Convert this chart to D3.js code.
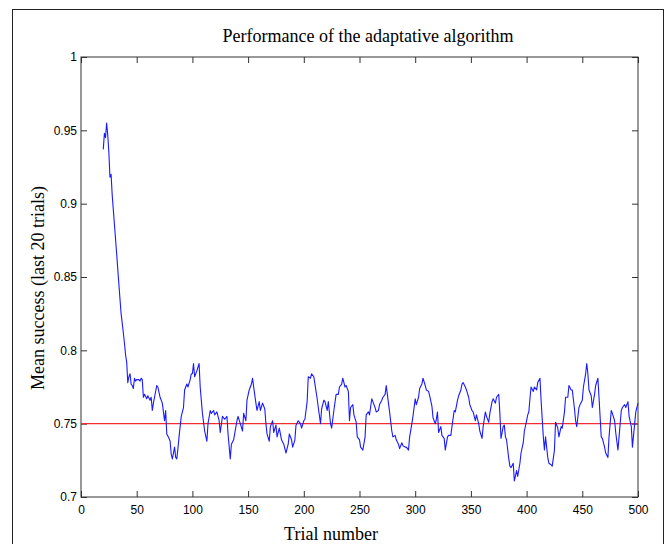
<!DOCTYPE html>
<html>
<head>
<meta charset="utf-8">
<script src="https://cdn.jsdelivr.net/npm/d3@7"></script>
<style>
  body { margin: 0; background: #fff; }
  svg { display: block; }
  .tick text { font-family: "Liberation Sans", Arial, sans-serif; font-size: 12px; fill: #000; }
  .tick line { stroke: #333; }
</style>
</head>
<body>
<svg></svg>
<script>
// trial number and mean success (moving window of last 20 trials)
const trials = [
  20, 21, 22, 23, 24, 25, 26, 27, 28, 30, 32, 34, 36, 38, 39, 40, 41, 42, 43, 44,
  45, 46, 47, 48, 49, 50, 52, 53, 54, 55, 56, 57, 59, 60, 62, 63, 64, 65, 66, 68,
  69, 71, 73, 75, 76, 77, 79, 80, 81, 82, 84, 85, 86, 87, 88, 90, 92, 93, 95, 96,
  98, 99, 100, 101, 102, 104, 106, 107, 109, 111, 113, 114, 116, 117, 119, 120, 122, 124, 125, 127,
  129, 131, 132, 134, 135, 137, 140, 141, 143, 145, 146, 148, 149, 151, 153, 154, 155, 157, 158, 160,
  161, 163, 165, 166, 167, 169, 170, 172, 173, 175, 176, 178, 180, 182, 184, 186, 187, 189, 190, 192,
  193, 195, 197, 198, 200, 201, 203, 204, 206, 207, 209, 210, 212, 213, 215, 216, 218, 219, 221, 222,
  224, 225, 227, 229, 231, 232, 234, 235, 237, 238, 240, 241, 242, 244, 245, 247, 248, 250, 251, 253,
  255, 256, 258, 259, 261, 262, 264, 265, 267, 268, 270, 271, 273, 274, 276, 277, 279, 280, 282, 283,
  285, 286, 288, 289, 291, 292, 294, 295, 297, 298, 300, 301, 303, 304, 306, 307, 309, 310, 312, 313,
  315, 316, 318, 319, 320, 321, 323, 324, 326, 327, 329, 330, 332, 333, 335, 336, 338, 339, 341, 342,
  343, 345, 346, 348, 349, 351, 352, 354, 355, 357, 358, 360, 361, 363, 364, 366, 367, 369, 370, 372,
  373, 375, 376, 377, 379, 380, 381, 382, 384, 385, 386, 388, 389, 391, 392, 394, 395, 397, 398, 400,
  401, 402, 403, 404, 406, 407, 409, 410, 412, 413, 415, 416, 417, 419, 420, 422, 423, 425, 426, 428,
  429, 431, 432, 434, 435, 437, 438, 440, 441, 443, 444, 445, 447, 448, 450, 451, 453, 454, 455, 456,
  458, 459, 461, 462, 464, 465, 467, 468, 470, 471, 473, 474, 476, 477, 479, 480, 482, 483, 485, 486,
  488, 489, 491, 492, 494, 495, 497, 498, 500
]
const success = [
  0.937, 0.948, 0.945, 0.955, 0.947, 0.935, 0.918, 0.920, 0.906, 0.886, 0.866, 0.845, 0.825, 0.812, 0.805, 0.797, 0.792, 0.778, 0.782, 0.784,
  0.777, 0.776, 0.774, 0.781, 0.779, 0.780, 0.780, 0.779, 0.781, 0.780, 0.768, 0.770, 0.767, 0.769, 0.766, 0.768, 0.759, 0.764, 0.768, 0.776,
  0.775, 0.768, 0.764, 0.752, 0.759, 0.743, 0.740, 0.738, 0.729, 0.726, 0.734, 0.727, 0.726, 0.733, 0.741, 0.755, 0.761, 0.773, 0.777, 0.775,
  0.780, 0.784, 0.784, 0.791, 0.782, 0.786, 0.791, 0.775, 0.757, 0.745, 0.738, 0.750, 0.759, 0.757, 0.759, 0.756, 0.758, 0.752, 0.744, 0.755,
  0.753, 0.755, 0.743, 0.726, 0.736, 0.739, 0.752, 0.755, 0.750, 0.745, 0.757, 0.752, 0.766, 0.773, 0.777, 0.781, 0.775, 0.764, 0.759, 0.765,
  0.759, 0.764, 0.760, 0.750, 0.743, 0.738, 0.748, 0.752, 0.744, 0.749, 0.741, 0.747, 0.739, 0.736, 0.730, 0.736, 0.743, 0.739, 0.734, 0.739,
  0.749, 0.752, 0.750, 0.747, 0.752, 0.753, 0.765, 0.782, 0.781, 0.784, 0.782, 0.777, 0.767, 0.761, 0.750, 0.760, 0.766, 0.765, 0.759, 0.765,
  0.750, 0.747, 0.759, 0.770, 0.770, 0.775, 0.777, 0.781, 0.775, 0.776, 0.772, 0.752, 0.761, 0.763, 0.756, 0.751, 0.741, 0.739, 0.734, 0.732,
  0.741, 0.756, 0.758, 0.756, 0.767, 0.765, 0.761, 0.758, 0.759, 0.763, 0.766, 0.768, 0.770, 0.776, 0.764, 0.758, 0.745, 0.741, 0.742, 0.739,
  0.736, 0.733, 0.737, 0.735, 0.734, 0.734, 0.732, 0.741, 0.750, 0.755, 0.767, 0.763, 0.768, 0.774, 0.777, 0.781, 0.776, 0.773, 0.772, 0.769,
  0.762, 0.754, 0.750, 0.753, 0.758, 0.744, 0.748, 0.742, 0.740, 0.732, 0.741, 0.742, 0.742, 0.748, 0.759, 0.758, 0.766, 0.769, 0.773, 0.777,
  0.778, 0.775, 0.773, 0.768, 0.763, 0.759, 0.758, 0.752, 0.756, 0.750, 0.745, 0.740, 0.748, 0.758, 0.755, 0.751, 0.757, 0.765, 0.767, 0.764,
  0.768, 0.770, 0.757, 0.740, 0.748, 0.749, 0.741, 0.739, 0.726, 0.721, 0.720, 0.723, 0.711, 0.718, 0.714, 0.723, 0.730, 0.737, 0.745, 0.752,
  0.756, 0.758, 0.767, 0.775, 0.772, 0.775, 0.773, 0.778, 0.781, 0.766, 0.741, 0.732, 0.741, 0.727, 0.723, 0.722, 0.721, 0.732, 0.751, 0.747,
  0.741, 0.748, 0.747, 0.758, 0.768, 0.768, 0.776, 0.773, 0.773, 0.760, 0.752, 0.748, 0.761, 0.763, 0.766, 0.775, 0.784, 0.791, 0.784, 0.773,
  0.769, 0.761, 0.770, 0.776, 0.781, 0.768, 0.741, 0.740, 0.734, 0.730, 0.727, 0.741, 0.759, 0.757, 0.752, 0.744, 0.732, 0.741, 0.759, 0.761,
  0.763, 0.761, 0.765, 0.755, 0.748, 0.734, 0.750, 0.758, 0.764
]
const chance = 0.75
const xTicks = [0, 50, 100, 150, 200, 250, 300, 350, 400, 450, 500]
const yTicks = [0.7, 0.75, 0.8, 0.85, 0.9, 0.95, 1]

const width = 667, height = 544
const svg = d3.select("svg").attr("width", width).attr("height", height)

// outer figure frame
svg.append("rect")
  .attr("x", 12.5).attr("y", 9.5)
  .attr("width", 651).attr("height", 545)
  .attr("fill", "none").attr("stroke", "#222")

const x = d3.scaleLinear().domain([0, 500]).range([81, 638])
const y = d3.scaleLinear().domain([0.7, 1]).range([497, 57])

const fmt = d => d3.format("")(+d.toFixed(2))

svg.append("g").attr("transform", `translate(0,${y(0.7)})`)
  .call(d3.axisBottom(x).tickValues(xTicks).tickSize(-6).tickPadding(8).tickFormat(d3.format("d")))
  .call(g => g.select(".domain").remove())
svg.append("g").attr("transform", `translate(0,${y(1)})`)
  .call(d3.axisTop(x).tickValues(xTicks).tickSize(-6).tickFormat(""))
  .call(g => g.select(".domain").remove())
svg.append("g").attr("transform", `translate(${x(0)},0)`)
  .call(d3.axisLeft(y).tickValues(yTicks).tickSize(-6).tickPadding(4).tickFormat(fmt))
  .call(g => g.select(".domain").remove())
svg.append("g").attr("transform", `translate(${x(500)},0)`)
  .call(d3.axisRight(y).tickValues(yTicks).tickSize(-6).tickFormat(""))
  .call(g => g.select(".domain").remove())

// axes box
svg.append("rect")
  .attr("x", x(0)).attr("y", y(1))
  .attr("width", x(500) - x(0)).attr("height", y(0.7) - y(1))
  .attr("fill", "none").attr("stroke", "#333")

// chance level
svg.append("line")
  .attr("x1", x(0)).attr("x2", x(500))
  .attr("y1", y(chance)).attr("y2", y(chance))
  .attr("stroke", "#f03030").attr("stroke-width", 1.2)

const line = d3.line()
  .x((d, i) => x(trials[i]))
  .y(d => y(d))

svg.append("path")
  .datum(success)
  .attr("d", line)
  .attr("fill", "none")
  .attr("stroke", "#1a1aff")
  .attr("stroke-width", 1.1)
  .attr("stroke-linejoin", "round")

const serif = "'Liberation Serif', 'Times New Roman', serif"
svg.append("text")
  .attr("x", 368).attr("y", 42)
  .attr("text-anchor", "middle")
  .style("font-family", serif).style("font-size", "18px")
  .text("Performance of the adaptative algorithm")

svg.append("text")
  .attr("x", 331).attr("y", 540)
  .attr("text-anchor", "middle")
  .style("font-family", serif).style("font-size", "18px")
  .text("Trial number")

svg.append("text")
  .attr("transform", "translate(44,288) rotate(-90)")
  .attr("text-anchor", "middle")
  .style("font-family", serif).style("font-size", "18px")
  .text("Mean success (last 20 trials)")
</script>
</body>
</html>
